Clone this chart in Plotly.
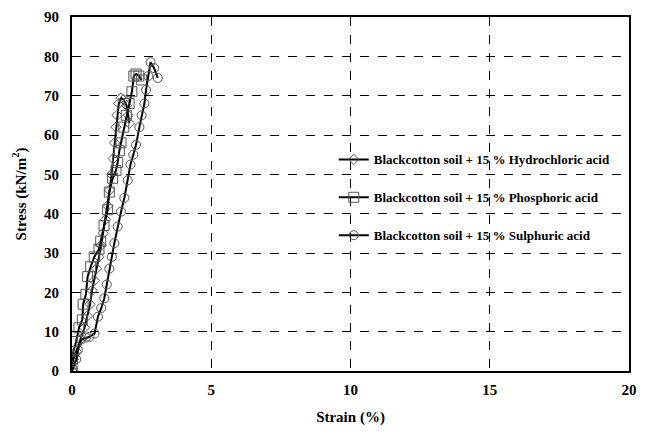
import plotly.graph_objects as go

# Hydrochloric acid (diamonds)
hcl_strain = [0, 0.05, 0.15, 0.3, 0.45, 0.55, 0.65, 0.72, 0.8, 0.88, 0.97, 1.05, 1.12, 1.2, 1.28, 1.35, 1.42, 1.48, 1.53, 1.58, 1.62, 1.68, 1.76, 1.86, 1.96, 2.02, 2.06]
hcl_stress = [0, 3, 5, 8, 11, 14, 17, 20.5, 23, 26, 29, 32, 35, 38.5, 42, 46, 50, 54, 58, 62, 65, 68, 69.4, 69, 67.5, 65, 63]

# Phosphoric acid (squares)
pho_strain = [0, 0.02, 0.05, 0.15, 0.25, 0.37, 0.4, 0.5, 0.56, 0.67, 0.8, 0.97, 1.03, 1.15, 1.28, 1.34, 1.46, 1.58, 1.64, 1.7, 1.76, 1.86, 1.95, 2.05, 2.15, 2.22, 2.3, 2.4, 2.5]
pho_stress = [0, 3, 5, 7.5, 11, 13, 17, 19.5, 24, 26.5, 29, 31, 33, 37, 41, 45.5, 49, 51, 53, 56, 58, 62, 65, 68, 71, 75, 75.5, 75, 74]

# Sulphuric acid (circles)
sul_strain = [0, 0.03, 0.15, 0.21, 0.33, 0.5, 0.63, 0.81, 0.93, 1.05, 1.16, 1.25, 1.34, 1.43, 1.52, 1.64, 1.76, 1.88, 2.0, 2.1, 2.2, 2.3, 2.42, 2.5, 2.6, 2.66, 2.74, 2.82, 2.95, 3.08]
sul_stress = [0, 0.5, 3, 5.3, 8, 8.5, 8.7, 9.5, 13.8, 16, 18.5, 22, 26, 29, 32.5, 36.7, 40.5, 44, 48.5, 52.5, 55, 57.5, 62, 65, 68, 71.5, 75, 78.5, 77, 74.5]

names = [
    "Blackcotton soil + 15 % Hydrochloric acid",
    "Blackcotton soil + 15 % Phosphoric acid",
    "Blackcotton soil + 15 % Sulphuric acid",
]
x_ticks = [0, 5, 10, 15, 20]
y_ticks = [0, 10, 20, 30, 40, 50, 60, 70, 80, 90]

series = [
    (hcl_strain, hcl_stress, "diamond-open", 8),
    (pho_strain, pho_stress, "square-open", 10),
    (sul_strain, sul_stress, "circle-open", 9),
]

fig = go.Figure()
for i, ((xs, ys, sym, sz), nm) in enumerate(zip(series, names)):
    fig.add_trace(go.Scatter(
        x=xs, y=ys, mode="lines+markers", name=nm, legendgroup=str(i),
        line=dict(color="black", width=2),
        marker=dict(symbol=sym, size=sz, color="#555555", line=dict(width=1, color="#555555")),
    ))

serif = "Liberation Serif"
# page body has an 8px default margin; size/margins compensate so the plot area lands where the reference has it
fig.update_layout(
    width=643, height=430,
    margin=dict(l=64, r=22, t=9, b=67),
    paper_bgcolor="white", plot_bgcolor="white",
    showlegend=True,
    legend=dict(
        x=0.47, y=0.64, xanchor="left", yanchor="top",
        font=dict(family=serif, size=13, color="black", weight="bold"),
        bgcolor="rgba(0,0,0,0)", tracegroupgap=18, itemwidth=30,
    ),
    font=dict(family=serif, color="black"),
)
fig.update_xaxes(
    range=[0, 20], tickvals=x_ticks, showline=True, linecolor="black", linewidth=2, mirror=True,
    showgrid=True, gridcolor="black", griddash="dash", gridwidth=1, zeroline=False, automargin=False,
    ticks="", ticklabelstandoff=4, tickfont=dict(family=serif, size=15, weight="bold"),
    title=dict(text="Strain (%)", font=dict(family=serif, size=15, weight="bold"), standoff=14),
)
fig.update_yaxes(
    range=[0, 90], tickvals=y_ticks, showline=True, linecolor="black", linewidth=2, mirror=True,
    showgrid=True, gridcolor="black", griddash="dash", gridwidth=1, zeroline=False, automargin=False,
    ticks="", ticklabelstandoff=8, tickfont=dict(family=serif, size=15, weight="bold"),
    title=dict(text="Stress (kN/m<sup>2</sup>)", font=dict(family=serif, size=15, weight="bold"), standoff=14),
)
fig.write_html("out.html")
